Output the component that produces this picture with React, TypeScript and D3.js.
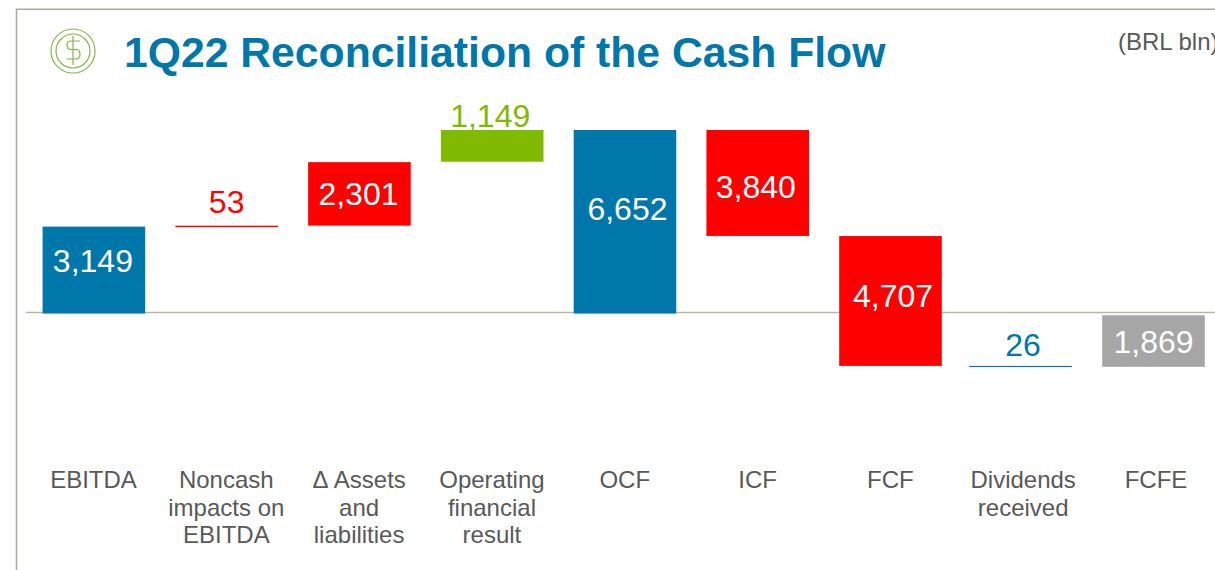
import React from "react";
import * as d3 from "d3";

const categories = ["EBITDA", "Noncash impacts on EBITDA", "Δ Assets and liabilities", "Operating financial result", "OCF", "ICF", "FCF", "Dividends received", "FCFE"];
const categoryLines = [["EBITDA"], ["Noncash", "impacts on", "EBITDA"], ["Δ Assets", "and", "liabilities"], ["Operating", "financial", "result"], ["OCF"], ["ICF"], ["FCF"], ["Dividends", "received"], ["FCFE"]];
const values = [3149, 53, 2301, 1149, 6652, 3840, 4707, 26, 1869];
const bases = [0, 3130, 3185, 5503, 0, 2812, -1900, -1925, -1934];
const labels = ["3,149", "53", "2,301", "1,149", "6,652", "3,840", "4,707", "26", "1,869"];
const kinds = ["total", "down", "down", "up", "total", "down", "down", "plain", "net"];

const BLUE = "#0077AA";
const colors: Record<string, string> = { total: BLUE, down: "#FF0000", up: "#7FBA00", plain: BLUE, net: "#A6A6A6" };
const GREY = "#595959";
const RULE = "#B9B6A8";
const ICON = "#83B648";

// label placement relative to its bar: baseline below the bar's top edge, and shift from its centre
const labelDy = [45, -13, 42.5, -3, 89.5, 68, 70.5, -9.5, 38];
const labelDx = [-1, 0, -1, -2, 2.5, -2, 2.5, 2.5, 0];
const inside = [true, false, true, false, true, true, true, false, true];

const x = d3.scaleLinear().domain([0, 6, 7, 8]).range([93.9, 890.5, 1020.5, 1153.5]);
const xCat = d3.scaleLinear().domain([0, categories.length - 1]).range([93.5, 1156]);
const barW = 102.6;
const y = d3.scaleLinear().domain([0, 6652]).range([313.5, 130]);

export default function App() {
  return (
    <svg width={1215} height={570} viewBox="0 0 1215 570" style={{ position: "absolute", left: 0, top: 0, display: "block", background: "#fff", fontFamily: "'Liberation Sans', Arial, sans-serif" }}>
      <path d="M16.5 570 V9.2 H1215" fill="none" stroke="#AEAAA0" strokeWidth={1.5} />

      <g fill="none" stroke={ICON} strokeWidth={1.2}>
        <circle cx={73} cy={51} r={22} />
        <circle cx={73} cy={51} r={17} />
        <path d="M80 41 H71 Q67 41 67 44.5 Q67 49.5 71 49.5 H76 Q80 49.5 80 54 Q80 59 76 59 H66.5" />
        <path d="M73 36 V65" />
      </g>

      <text x={124} y={67} fontSize={42.7} fontWeight={700} fill={BLUE}>1Q22 Reconciliation of the Cash Flow</text>
      <text x={1118} y={50} fontSize={24} fill={GREY}>(BRL bln)</text>

      <line x1={26} x2={1215} y1={312.5} y2={312.5} stroke={RULE} strokeWidth={1.5} />

      {values.map((v, i) => {
        const top = y(bases[i] + v);
        const bottom = y(bases[i]);
        const color = colors[kinds[i]];
        return (
          <g key={categories[i]}>
            <rect x={x(i) - barW / 2} y={top} width={barW} height={Math.max(bottom - top, 1.2)} fill={color} />
            <text x={x(i) + labelDx[i]} y={top + labelDy[i]} textAnchor="middle" fontSize={32} fill={inside[i] ? "#FFFFFF" : color}>{labels[i]}</text>
          </g>
        );
      })}

      {categoryLines.map((lines, i) => (
        <text key={categories[i]} textAnchor="middle" fontSize={24} fill={GREY}>
          {lines.map((l, j) => (
            <tspan key={l} x={xCat(i)} y={488 + j * 27.7}>{l}</tspan>
          ))}
        </text>
      ))}
    </svg>
  );
}
